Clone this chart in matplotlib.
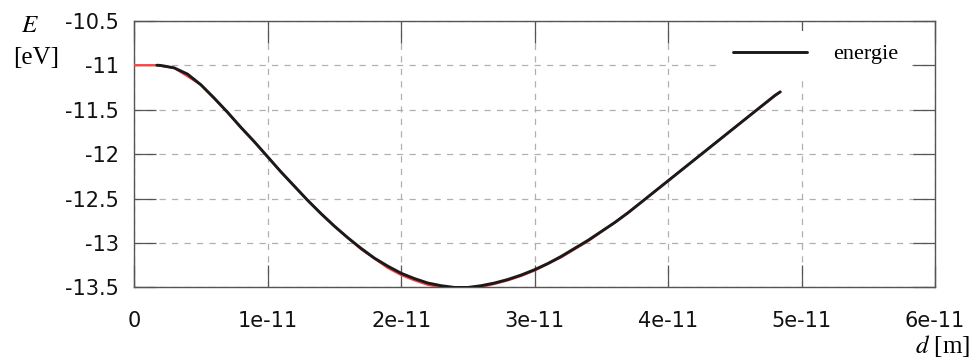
import numpy as np
import matplotlib.pyplot as plt

plt.rcParams["mathtext.fontset"] = "stix"

# curve (d in units of 1e-11 m, E in eV)
d_vals = [0.17, 0.2, 0.3, 0.4, 0.5, 0.6, 0.7, 0.8, 0.9, 1.0,
          1.1, 1.2, 1.3, 1.4, 1.5, 1.6, 1.7, 1.8, 1.9, 2.0,
          2.1, 2.2, 2.3, 2.4, 2.5, 2.6, 2.7, 2.8, 2.9, 3.0,
          3.1, 3.2, 3.3, 3.4, 3.5, 3.6, 3.7, 3.8, 3.9, 4.0,
          4.1, 4.2, 4.3, 4.4, 4.5, 4.6, 4.7, 4.8, 4.84]
E_vals = [-11.0, -11.003, -11.03, -11.10, -11.22, -11.37, -11.53, -11.70, -11.86, -12.03,
          -12.20, -12.36, -12.52, -12.67, -12.81, -12.94, -13.06, -13.17, -13.26, -13.34,
          -13.40, -13.45, -13.48, -13.50, -13.50, -13.48, -13.45, -13.41, -13.36, -13.30,
          -13.23, -13.15, -13.06, -12.97, -12.87, -12.77, -12.66, -12.54, -12.42, -12.30,
          -12.18, -12.06, -11.94, -11.82, -11.70, -11.58, -11.46, -11.34, -11.30]

# red series underneath (flat start, a touch lower around the minimum)
red_d = [0.0, 0.17, 0.3, 0.5, 0.7, 0.9, 1.1, 1.3, 1.5, 1.7, 1.9, 2.0, 2.1, 2.2,
         2.3, 2.4, 2.5, 2.6, 2.7, 2.8, 2.9, 3.0, 3.2, 3.4, 3.6, 3.8, 4.0, 4.2,
         4.4, 4.6, 4.84]
red_E = [-11.0, -11.0, -11.03, -11.22, -11.53, -11.86, -12.20, -12.52, -12.81, -13.07, -13.28,
         -13.36, -13.42, -13.47, -13.50, -13.515, -13.515, -13.495, -13.46, -13.42, -13.37,
         -13.31, -13.16, -12.98, -12.77, -12.54, -12.30, -12.06, -11.82, -11.58, -11.30]

x_ticks = [0, 1e-11, 2e-11, 3e-11, 4e-11, 5e-11, 6e-11]
x_labels = ["0", "1e-11", "2e-11", "3e-11", "4e-11", "5e-11", "6e-11"]
y_ticks = [-13.5, -13, -12.5, -12, -11.5, -11, -10.5]
y_labels = ["-13.5", "-13", "-12.5", "-12", "-11.5", "-11", "-10.5"]

fig = plt.figure(figsize=(9.72, 3.58), dpi=100)
ax = fig.add_axes([0.138, 0.197, 0.824, 0.745])

ax.plot(np.array(red_d) * 1e-11, red_E, color="#ff4040", linewidth=1.6, zorder=3)
ax.plot(np.array(d_vals) * 1e-11, E_vals, color="#1a1a1a", linewidth=2.1,
        label="energie", zorder=4, solid_capstyle="round")

ax.set_xlim(0, 6e-11)
ax.set_ylim(-13.5, -10.5)
ax.set_xticks(x_ticks)
ax.set_xticklabels(x_labels)
ax.set_yticks(y_ticks)
ax.set_yticklabels(y_labels)

ax.grid(True, color="#b0b0b0", linestyle=(0, (5, 5)), linewidth=0.9)
ax.tick_params(direction="in", length=16, width=0.9, color="#555555",
               top=True, right=True, labelsize=15, labelcolor="#111111")
ax.tick_params(axis="x", pad=17)
ax.tick_params(axis="y", pad=11)
for sp in ax.spines.values():
    sp.set_color("#555555")
    sp.set_linewidth(1.0)

serif = ["Liberation Serif", "DejaVu Serif"]
fig.text(0.031, 0.91, "$E$", fontsize=18, family=serif, ha="center")
fig.text(0.013, 0.82, "[eV]", fontsize=18, family=serif, ha="left")
fig.text(0.998, 0.015, "$d$ [m]", fontsize=18, family=serif, ha="right")

leg = ax.legend(loc="upper right", bbox_to_anchor=(0.985, 1.005), frameon=True,
                prop={"family": serif, "size": 16}, handlelength=3.3,
                handletextpad=1.2, borderpad=0.6, fancybox=False)
leg.get_frame().set_edgecolor("none")
leg.get_frame().set_facecolor("white")
leg.get_frame().set_alpha(1.0)
leg.set_zorder(5)

fig.savefig("out.png", dpi=100)
